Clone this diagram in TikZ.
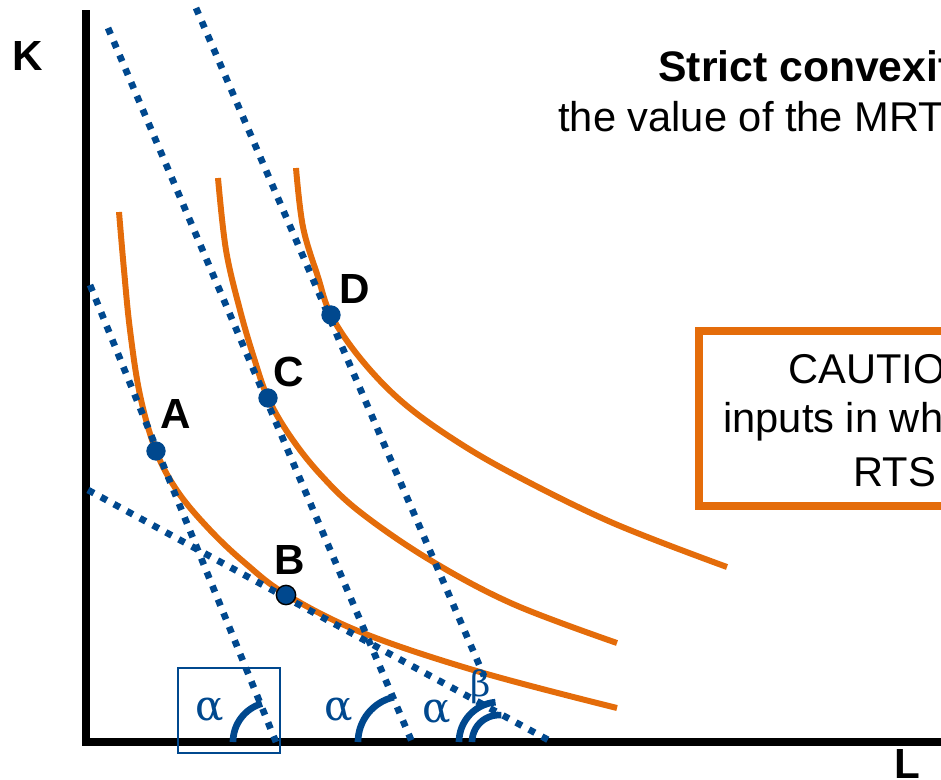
\documentclass[tikz,border=0pt]{standalone}
\usepackage{fontspec}
\setmainfont{Liberation Sans}
\newfontfamily\greekfont{DejaVu Serif}
\usetikzlibrary{arrows.meta}
\definecolor{isoorange}{HTML}{E46C0A}
\definecolor{tanblue}{HTML}{00488E}

\begin{document}
\begin{tikzpicture}[x=0.02cm, y=-0.02cm,
  font=\fontsize{23.7}{29}\selectfont,
  isoquant/.style={isoorange, line width=3.4pt},
  tangent/.style={tanblue, line width=3.8pt, dash pattern=on 3.8pt off 4.6pt},
  pt/.style={circle, fill=tanblue, inner sep=0pt, minimum size=11pt},
  lbl/.style={font=\fontsize{24}{29}\selectfont\bfseries},
  txt/.style={anchor=base west, inner sep=0pt},
  anglearc/.style={tanblue, line width=3.8pt},
  greek/.style={text=tanblue, font=\greekfont\fontsize{24}{28}\selectfont}]
  \useasboundingbox (0,0) rectangle (941,779);
  \clip (0,0) rectangle (941,779);
  % axes
  \coordinate (ktop) at (86,10);
  \coordinate (origin) at (86,742);
  \coordinate (lend) at (950,742);
  \draw[line width=4.5pt] (ktop) -- (origin) -- (lend);
  \node[lbl] (K) at (28,56) {K};
  \node[lbl] (L) at (907,764) {L};
  % isoquants
  \draw[isoquant] plot[smooth, tension=0.6] coordinates {(119,212) (124,270)
    (130,330) (140,395) (156,451) (178,492) (210,530) (245,563) (287,595)
    (363,633) (480,672) (617,708)};
  \draw[isoquant] plot[smooth, tension=0.6] coordinates {(218,178) (226,250)
    (240,310) (254,358) (268,398) (290,436) (320,474) (360,512) (430,560)
    (513,604) (617,643)};
  \draw[isoquant] plot[smooth, tension=0.6] coordinates {(296,168) (303,227)
    (318,277) (331,315) (360,358) (400,400) (450,437) (513,474) (613,523)
    (727,567)};
  % tangents
  \coordinate (a1) at (90,285);  \coordinate (a2) at (276,742);
  \coordinate (c1) at (108,28);  \coordinate (c2) at (412,742);
  \coordinate (d1) at (196,8);   \coordinate (d2) at (484,676);
  \coordinate (b1) at (88,490);  \coordinate (b2) at (552,742);
  \foreach \s/\e in {a1/a2, c1/c2, d1/d2, b1/b2}
    \draw[tangent] (\s) -- (\e);
  % points
  \foreach \n/\p/\q/\o in {A/{156,451}/{176,414}/none, B/{286,595}/{290,560}/black,
                           C/{268,398}/{289,372}/none, D/{331,315}/{355,289}/none}{%
    \node[pt, draw=\o, line width=0.8pt] (\n) at (\p) {};
    \node[lbl] (lab\n) at (\q) {\n};}
  % angles
  \draw[tanblue, line width=0.9pt] (178,668) rectangle (280,753);
  \coordinate (xa) at (273,742);
  \coordinate (xc) at (404,742);
  \coordinate (xd) at (499,742);
  \draw[anglearc] ([shift={(180:0.8cm)}]xa) arc[start angle=180, end angle=106, radius=0.8cm];
  \draw[anglearc] ([shift={(180:0.92cm)}]xc) arc[start angle=180, end angle=103, radius=0.92cm];
  \draw[anglearc] ([shift={(180:0.8cm)}]xd) arc[start angle=180, end angle=95, radius=0.8cm];
  \draw[anglearc] ([shift={(180:0.54cm)}]xd) arc[start angle=180, end angle=85, radius=0.54cm];
  \foreach \p [count=\i] in {{210,710}, {339,710}, {437,712}}
    \node[greek] (alpha\i) at (\p) {α};
  \node[greek, font=\greekfont\fontsize{20}{24}\selectfont] (beta) at (481,687) {β};
  % text
  \node[txt, font=\fontsize{24.3}{29}\selectfont\bfseries] (head) at (658,81) {Strict convexit};
  \node[txt] (sub) at (558,131) {the value of the MRT};
  \draw[isoorange, line width=4.5pt] (699,331) rectangle (1000,506);
  \node[txt] (note1) at (788,383) {CAUTIO};
  \node[txt] (note2) at (723,432) {inputs in wh};
  \node[txt] (note3) at (853,486) {RTS};
\end{tikzpicture}
\end{document}
